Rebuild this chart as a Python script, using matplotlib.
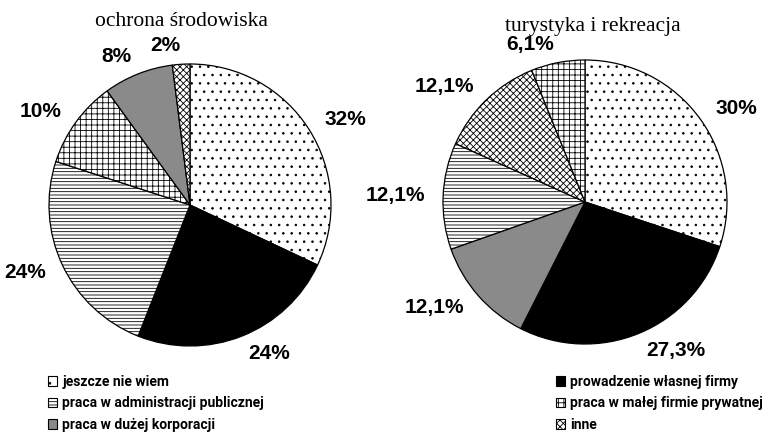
import matplotlib
matplotlib.use("Agg")
import matplotlib.pyplot as plt
from matplotlib.patches import Patch
from matplotlib import font_manager

# categories (legend order)
categories = ["jeszcze nie wiem", "prowadzenie własnej firmy",
              "praca w administracji publicznej", "praca w małej firmie prywatnej",
              "praca w dużej korporacji", "inne"]

# left pie: ochrona środowiska (clockwise from 12 o'clock)
left_title = "ochrona środowiska"
left_cats = ["jeszcze nie wiem", "prowadzenie własnej firmy",
             "praca w administracji publicznej", "praca w małej firmie prywatnej",
             "praca w dużej korporacji", "inne"]
left_vals = [32, 24, 24, 10, 8, 2]

# right pie: turystyka i rekreacja
right_title = "turystyka i rekreacja"
right_cats = ["jeszcze nie wiem", "prowadzenie własnej firmy",
              "praca w dużej korporacji", "praca w administracji publicznej",
              "inne", "praca w małej firmie prywatnej"]
right_vals = [30, 27.3, 12.1, 12.1, 12.1, 6.1]

# look of each category: facecolor, hatch
style = {
    "jeszcze nie wiem": ("white", ".."),
    "prowadzenie własnej firmy": ("black", None),
    "praca w administracji publicznej": ("white", "-----"),
    "praca w małej firmie prywatnej": ("white", "+++"),
    "praca w dużej korporacji": ("#8a8a8a", None),
    "inne": ("white", "xxxxx"),
}

plt.rcParams["hatch.linewidth"] = 0.6

W, H = 763, 443
fig = plt.figure(figsize=(W / 100, H / 100), dpi=100)
fig.patch.set_facecolor("white")


def pct(v):
    return ("%g%%" % v).replace(".", ",")


def draw_pie(cx, cy, r, cats, vals, title, tx, ty):
    ax = fig.add_axes([(cx - r) / W, (H - cy - r) / H, 2 * r / W, 2 * r / H])
    wedges, texts = ax.pie(vals, labels=[pct(v) for v in vals], startangle=90,
                           counterclock=False, labeldistance=1.13,
                           colors=[style[c][0] for c in cats],
                           wedgeprops=dict(edgecolor="black", linewidth=0.9),
                           textprops=dict(fontsize=15, fontweight="bold",
                                          family="Liberation Sans"))
    for w, c in zip(wedges, cats):
        if style[c][1]:
            w.set_hatch(style[c][1])
    ax.set_xlim(-1, 1)
    ax.set_ylim(-1, 1)
    ax.set_aspect("equal")
    ax.axis("off")
    for t in texts:
        t.set_clip_on(False)
    fig.text(tx / W, 1 - ty / H, title, ha="center", va="center",
             family="Liberation Serif", fontsize=15.5)


draw_pie(190, 205, 141, left_cats, left_vals, left_title, 181, 22)
draw_pie(585, 202, 142, right_cats, right_vals, right_title, 593, 27)

# legend (condensed bold look)
leg_font = font_manager.FontProperties(family=["Roboto", "DejaVu Sans"],
                                       weight="bold", size=10)


def handle(c):
    return Patch(facecolor=style[c][0], edgecolor="black", hatch=style[c][1],
                 linewidth=0.8)


left_leg = [categories[0], categories[2], categories[4]]
right_leg = [categories[1], categories[3], categories[5]]
for cats, x in ((left_leg, 38), (right_leg, 546)):
    fig.legend([handle(c) for c in cats], cats, loc="upper left",
               bbox_to_anchor=(x / W, 1 - 365 / H), frameon=False,
               prop=leg_font, handlelength=0.7, handleheight=0.7,
               handletextpad=0.35, labelspacing=0.55, borderpad=0.2)

fig.savefig("out.png", dpi=100, facecolor="white")
